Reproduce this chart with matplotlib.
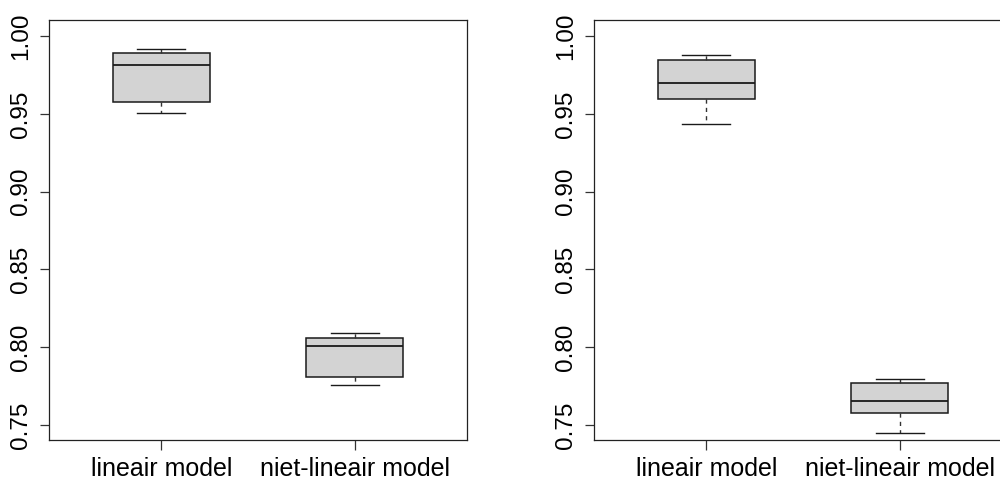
import matplotlib
matplotlib.use("Agg")
import matplotlib.pyplot as plt

plt.rcParams['font.family'] = ['Liberation Sans', 'DejaVu Sans']

groups = ['lineair model', 'niet-lineair model']
y_ticks = [0.75, 0.80, 0.85, 0.90, 0.95, 1.00]

# five-number summaries per panel: whisker low, Q1, median, Q3, whisker high
left_low = [0.9507, 0.7755]
left_q1 = [0.9576, 0.7808]
left_med = [0.9816, 0.8008]
left_q3 = [0.9889, 0.8061]
left_high = [0.9914, 0.8089]

right_low = [0.9436, 0.7446]
right_q1 = [0.9595, 0.7575]
right_med = [0.9696, 0.7654]
right_q3 = [0.9848, 0.7772]
right_high = [0.9876, 0.7794]


def make_stats(low, q1, med, q3, high):
    return [dict(whislo=a, q1=b, med=c, q3=d, whishi=e, fliers=[])
            for a, b, c, d, e in zip(low, q1, med, q3, high)]


def draw_panel(ax, stats):
    ax.bxp(stats, positions=[1, 2], widths=0.5, capwidths=0.25,
           showfliers=False, patch_artist=True,
           boxprops=dict(facecolor='#d3d3d3', edgecolor='#1a1a1a', linewidth=1.1),
           medianprops=dict(color='#1a1a1a', linewidth=1.3),
           whiskerprops=dict(color='#333333', linewidth=1.0, linestyle=(0, (3, 3))),
           capprops=dict(color='#1a1a1a', linewidth=1.0))
    ax.set_xlim(0.42, 2.58)
    ax.set_ylim(0.7404, 1.0103)
    ax.set_yticks(y_ticks)
    ax.set_yticklabels(['%.2f' % t for t in y_ticks], rotation=90, va='center')
    ax.set_xticks([1, 2])
    ax.set_xticklabels(groups)
    ax.tick_params(axis='y', length=6.5, width=0.9, pad=6, labelsize=17.5, color='#333333')
    ax.tick_params(axis='x', length=7, width=0.9, pad=5.5, labelsize=18, color='#333333')
    for s in ax.spines.values():
        s.set_linewidth(0.9)
        s.set_color('#222222')


fig = plt.figure(figsize=(10, 4.79), dpi=100)
ax1 = fig.add_axes([0.049, 0.0814, 0.418, 0.8768])
ax2 = fig.add_axes([0.594, 0.0814, 0.418, 0.8768])

draw_panel(ax1, make_stats(left_low, left_q1, left_med, left_q3, left_high))
draw_panel(ax2, make_stats(right_low, right_q1, right_med, right_q3, right_high))

fig.savefig('out.png', dpi=100)
